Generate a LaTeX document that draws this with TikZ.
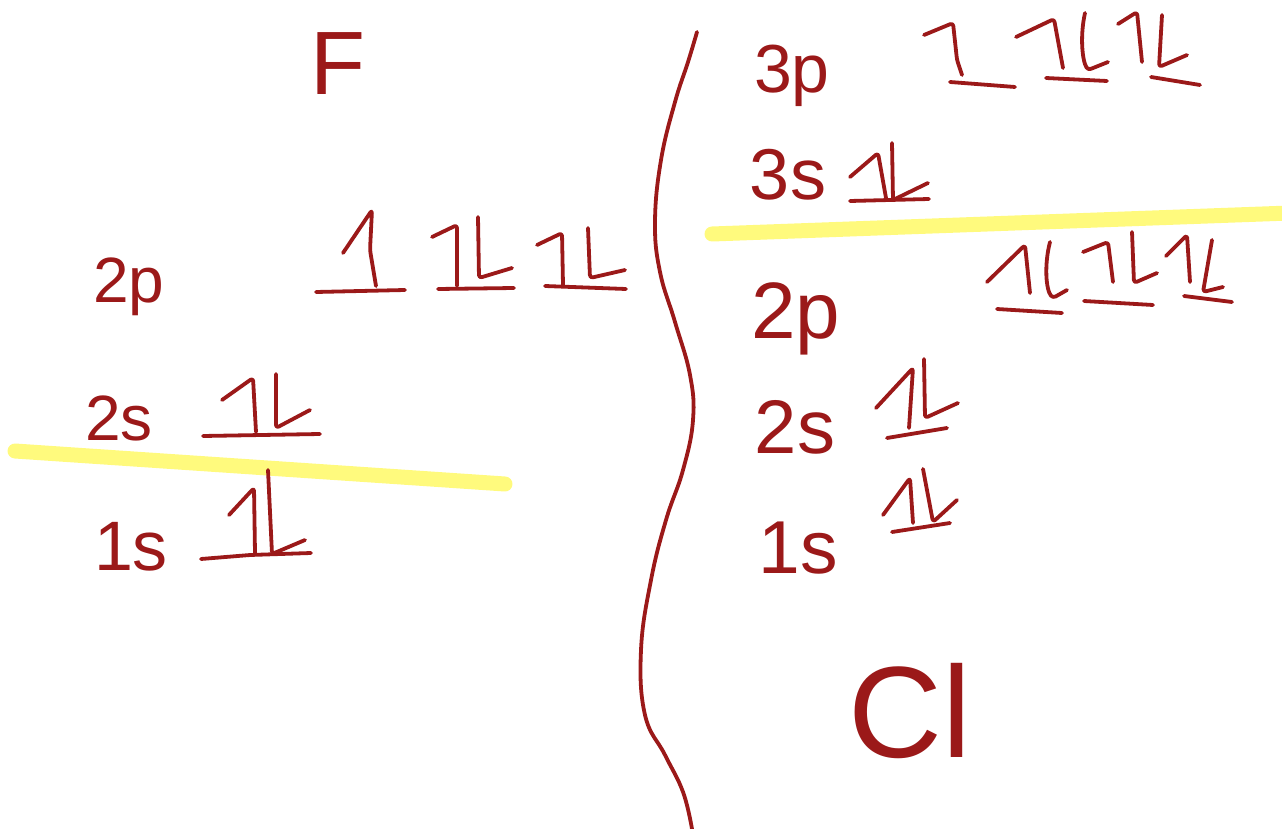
\documentclass[tikz,border=0pt]{standalone}
\usepackage{fontspec}
\setmainfont{Liberation Sans}
\definecolor{ink}{RGB}{155,25,25}
\definecolor{hlc}{RGB}{255,250,125}
\tikzset{
  hand/.style={draw=ink, line width=3.8pt, line cap=round, line join=round, rounded corners=3pt},
  hlstroke/.style={draw=hlc, line width=15pt, line cap=round},
  lbl/.style={text=ink, inner sep=0pt, anchor=base},
}
\newcommand{\fs}[1]{\fontsize{#1}{#1}\selectfont}
\begin{document}
\begin{tikzpicture}[x=1pt,y=-1pt]
\useasboundingbox (0,0) rectangle (1282,829);
% highlighter strokes
\draw[hlstroke] (15,451) -- (505,484);
\draw[hlstroke] (712,234) -- (1290,213);
% divider
\draw[hand, rounded corners=0pt] plot[smooth, tension=0.7] coordinates {(697,32) (688,62) (675,102) (661,160) (655,222) (660,272) (675,322) (690,375) (693,420) (683,470) (666,520) (651,580) (641,650) (645,715) (665,755) (683,792) (692,829)};
% ---------- F ----------
\node[lbl, font=\fs{90}] (F) at (338,95) {F};
\node[lbl, font=\fs{64}] (F2p) at (129,302) {2p};
\node[lbl, font=\fs{64}] (F2s) at (119,440) {2s};
\node[lbl, font=\fs{70}] (F1s) at (131,570) {1s};
% F 2p
\draw[hand] (343,253) -- (372,210) -- (370,250) -- (376,286);
\draw[hand] (316,292) -- (405,290);
\draw[hand] (432,237) -- (457,225) -- (457,286);
\draw[hand] (478,217) -- (479,278) -- (512,268);
\draw[hand] (438,289) -- (514,288);
\draw[hand] (537,245) -- (562,233) -- (563,285);
\draw[hand] (588,228) -- (590,278) -- (625,270);
\draw[hand] (545,286) -- (626,289);
% F 2s
\draw[hand] (222,400) -- (253,378) -- (256,432);
\draw[hand] (276,374) -- (276,428) -- (310,410);
\draw[hand] (203,436) -- (320,434);
% F 1s
\draw[hand] (229,515) -- (254,488) -- (255,553);
\draw[hand] (268,470) -- (272,554) -- (305,540);
\draw[hand] (201,559) -- (250,555) -- (311,553);
% ---------- Cl ----------
\node[lbl, font=\fs{68}] (C3p) at (792,93) {3p};
\node[lbl, font=\fs{72}] (C3s) at (788,200) {3s};
\node[lbl, font=\fs{80}] (C2p) at (796,338) {2p};
\node[lbl, font=\fs{76}] (C2s) at (795,453) {2s};
\node[lbl, font=\fs{75}] (C1s) at (798,573) {1s};
\node[lbl, font=\fs{130}] (Cl) at (910,757) {Cl};
% Cl 3p
\draw[hand] (924,35) -- (953,23) -- (957,60) -- (962,75);
\draw[hand] (950,82) -- (1015,87);
\draw[hand] (1016,37) -- (1054,19) -- (1063,68);
\draw[hand] (1085,13) .. controls (1080,35) and (1082,60) .. (1088,70) -- (1108,62);
\draw[hand] (1046,78) -- (1107,81);
\draw[hand] (1118,24) -- (1137,12) -- (1142,62);
\draw[hand] (1162,15) -- (1159,67) -- (1187,55);
\draw[hand] (1151,77) -- (1200,85);
% Cl 3s
\draw[hand] (850,177) -- (878,153) -- (886,198);
\draw[hand] (892,143) -- (893,200) -- (928,183);
\draw[hand] (850,201) -- (929,199);
% Cl 2p
\draw[hand] (987,282) -- (1025,245) -- (1030,293);
\draw[hand] (1050,242) .. controls (1044,265) and (1046,290) .. (1053,298) -- (1067,290);
\draw[hand] (997,309) -- (1062,313);
\draw[hand] (1083,252) -- (1108,242) -- (1113,282);
\draw[hand] (1132,232) -- (1134,283) -- (1157,273);
\draw[hand] (1084,301) -- (1153,305);
\draw[hand] (1166,256) -- (1187,235) -- (1190,282);
\draw[hand] (1212,240) -- (1203,292) -- (1223,287);
\draw[hand] (1184,296) -- (1232,302);
% Cl 2s
\draw[hand] (876,408) -- (913,368) -- (909,428);
\draw[hand] (924,359) -- (925,418) -- (958,403);
\draw[hand] (887,438) -- (947,428);
% Cl 1s
\draw[hand] (883,515) -- (910,478) -- (913,523);
\draw[hand] (923,469) -- (933,522) -- (957,500);
\draw[hand] (892,532) -- (950,523);
\end{tikzpicture}
\end{document}
